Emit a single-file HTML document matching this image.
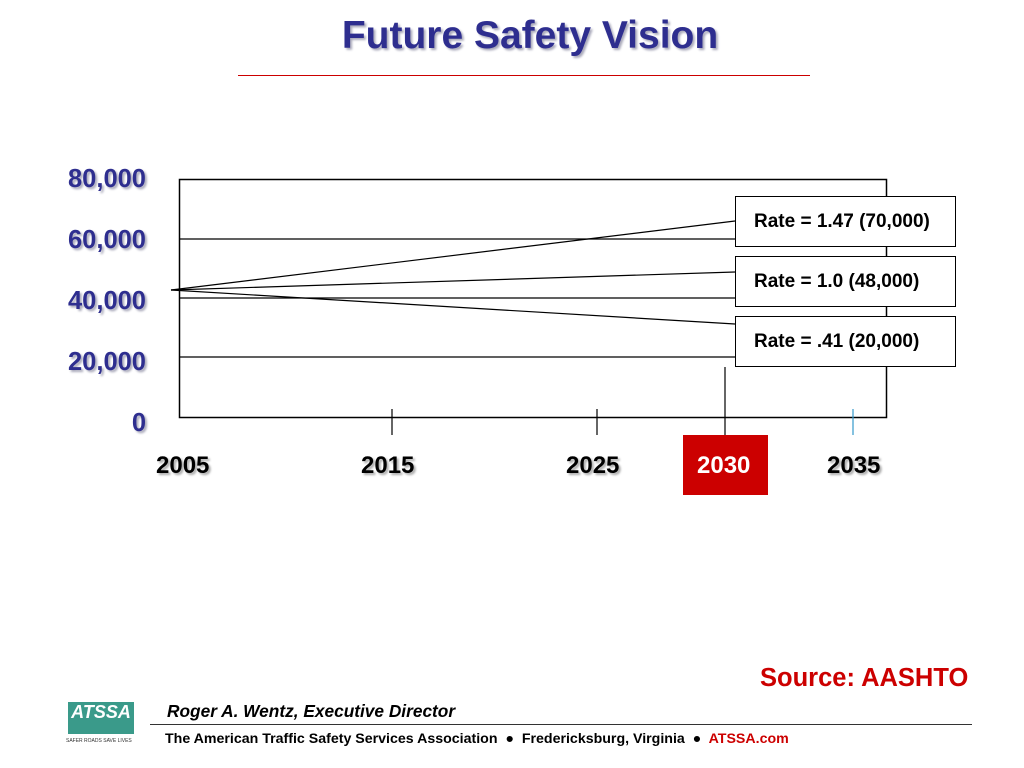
<!DOCTYPE html>
<html><head><style>
body{margin:0;width:1024px;height:768px;background:#fff;position:relative;overflow:hidden;font-family:"Liberation Sans",Arial,sans-serif}
.a{position:absolute}
.t{color:#2e2e8f;font-weight:bold;text-shadow:2px 2px 2px #aab}
.y{font-size:25.5px;text-align:right;width:100px;left:46px}
.x{font-size:24px;color:#000;font-weight:bold;text-shadow:2px 2px 2px #aaa}
.b{position:absolute;left:735px;width:221px;height:51px;border:1px solid #000;background:#fff;font-weight:bold;font-size:19px;box-sizing:border-box;padding:14px 0 0 18px;white-space:nowrap}
</style></head><body>
<div class="a t" style="left:0;width:1060px;text-align:center;top:14px;font-size:39px">Future Safety Vision</div>
<div class="a" style="left:238px;top:75px;width:572px;height:1px;background:#c00"></div>
<div class="a t y" style="top:165px">80,000</div>
<div class="a t y" style="top:226px">60,000</div>
<div class="a t y" style="top:287px">40,000</div>
<div class="a t y" style="top:348px">20,000</div>
<div class="a t y" style="top:409px">0</div>
<svg class="a" style="left:0;top:0" width="1024" height="768">
<rect x="179.5" y="179.5" width="707" height="238" fill="none" stroke="#000" stroke-width="1.5"/>
<g stroke="#000" stroke-width="1.2">
<line x1="179" y1="239" x2="887" y2="239"/><line x1="179" y1="298" x2="887" y2="298"/><line x1="179" y1="357" x2="887" y2="357"/>
<line x1="171" y1="290" x2="735" y2="221"/><line x1="171" y1="290" x2="735" y2="272"/><line x1="171" y1="290" x2="735" y2="324"/>
<line x1="392" y1="409" x2="392" y2="435"/><line x1="597" y1="409" x2="597" y2="435"/><line x1="725" y1="367" x2="725" y2="435"/>
</g>
<line x1="853" y1="409" x2="853" y2="435" stroke="#39c" stroke-width="1.2"/>
</svg>
<div class="b" style="top:196px">Rate = 1.47 (70,000)</div>
<div class="b" style="top:256px">Rate = 1.0 (48,000)</div>
<div class="b" style="top:316px">Rate = .41 (20,000)</div>
<div class="a x" style="left:156px;top:452px">2005</div>
<div class="a x" style="left:361px;top:452px">2015</div>
<div class="a x" style="left:566px;top:452px">2025</div>
<div class="a" style="left:683px;top:435px;width:85px;height:60px;background:#c00"></div>
<div class="a" style="left:697px;top:452px;font-size:24px;font-weight:bold;color:#fff">2030</div>
<div class="a x" style="left:827px;top:452px">2035</div>
<div class="a" style="left:760px;top:664px;font-size:25.5px;font-weight:bold;color:#c00">Source: AASHTO</div>
<div class="a" style="left:68px;top:702px;width:66px;height:32px;background:#3a9a8a;color:#fff;font-weight:bold;font-style:italic;font-size:18px;text-align:center">ATSSA</div>
<div class="a" style="left:66px;top:738px;font-size:5px;color:#333">SAFER ROADS SAVE LIVES</div>
<div class="a" style="left:167px;top:701px;font-size:17.3px;font-weight:bold;font-style:italic">Roger A. Wentz, Executive Director</div>
<div class="a" style="left:150px;top:724px;width:822px;height:1px;background:#333"></div>
<div class="a" style="left:165px;top:731px;font-size:14.2px;font-weight:bold;white-space:nowrap">The American Traffic Safety Services Association &nbsp;●&nbsp; Fredericksburg, Virginia &nbsp;●&nbsp; <span style="color:#c00">ATSSA.com</span></div>
</body></html>
